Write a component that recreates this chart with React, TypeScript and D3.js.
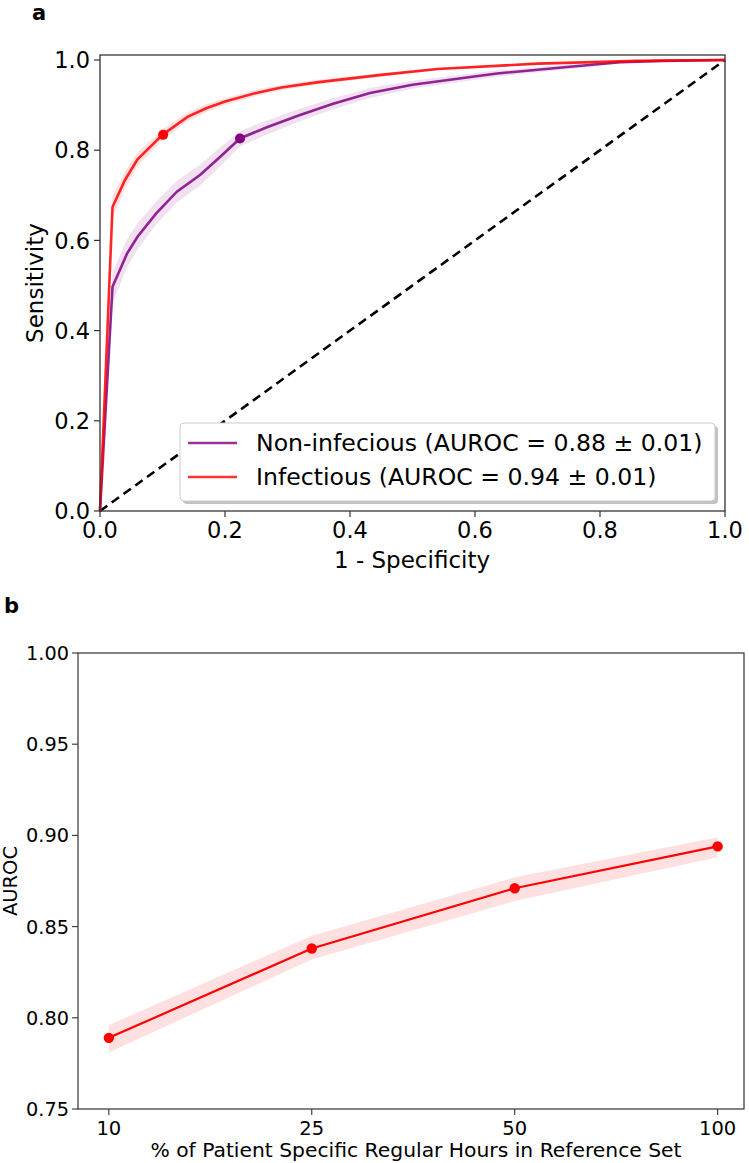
import React from "react";
import * as d3 from "d3";

// ---------- Panel a: ROC data ----------
const infFpr = [0, 0.02, 0.04, 0.06, 0.1, 0.14, 0.17, 0.2, 0.25, 0.29, 0.35, 0.45, 0.54, 0.7, 0.86, 1.0];
const infTpr = [0, 0.674, 0.734, 0.78, 0.834, 0.874, 0.893, 0.908, 0.927, 0.939, 0.951, 0.967, 0.98, 0.992, 0.998, 1.0];
const infLo = [0, 0.65, 0.715, 0.765, 0.822, 0.864, 0.884, 0.9, 0.92, 0.933, 0.946, 0.963, 0.977, 0.99, 0.997, 1.0];
const infHi = [0, 0.698, 0.753, 0.795, 0.846, 0.884, 0.902, 0.916, 0.934, 0.945, 0.956, 0.971, 0.983, 0.994, 0.999, 1.0];

const nonFpr = [0, 0.02, 0.043, 0.06, 0.09, 0.123, 0.16, 0.192, 0.224, 0.267, 0.32, 0.373, 0.432, 0.5, 0.635, 0.752, 0.832, 0.9, 1.0];
const nonTpr = [0, 0.497, 0.57, 0.608, 0.66, 0.708, 0.745, 0.785, 0.826, 0.851, 0.878, 0.903, 0.927, 0.945, 0.97, 0.985, 0.995, 0.998, 1.0];
const nonLo = [0, 0.46, 0.54, 0.58, 0.635, 0.684, 0.722, 0.764, 0.808, 0.835, 0.864, 0.891, 0.916, 0.936, 0.963, 0.98, 0.992, 0.996, 1.0];
const nonHi = [0, 0.53, 0.602, 0.638, 0.686, 0.732, 0.768, 0.806, 0.842, 0.866, 0.892, 0.915, 0.938, 0.954, 0.977, 0.99, 0.998, 1.0, 1.0];

const infPoint = [0.101, 0.834];
const nonPoint = [0.224, 0.826];

const rocTicks = [0, 0.2, 0.4, 0.6, 0.8, 1.0];
const legendLabels = ["Non-infecious (AUROC = 0.88 \u00b1 0.01)", "Infectious (AUROC = 0.94 \u00b1 0.01)"];

// ---------- Panel b: AUROC vs % data ----------
const pctCategories = ["10", "25", "50", "100"];
const aurocMean = [0.789, 0.838, 0.871, 0.894];
const aurocLo = [0.781, 0.832, 0.864, 0.888];
const aurocHi = [0.796, 0.845, 0.877, 0.899];
const aurocTicks = [0.75, 0.8, 0.85, 0.9, 0.95, 1.0];

const PURPLE = "#800080";
const RED = "#ff0000";
const FONT = "'DejaVu Sans', sans-serif";

export default function App() {
  // Panel a scales
  const xA = d3.scaleLinear().domain([0, 1]).range([100, 725]);
  const yA = d3.scaleLinear().domain([0, 1]).range([511, 60]);
  const topA = 55;

  const lineA = (fx: number[], fy: number[]) =>
    d3.line<number>().x((_, i) => xA(fx[i])).y((_, i) => yA(fy[i]))(fx) || "";
  const areaA = (fx: number[], lo: number[], hi: number[]) =>
    d3.area<number>().x((_, i) => xA(fx[i])).y0((_, i) => yA(lo[i])).y1((_, i) => yA(hi[i]))(fx) || "";

  // Panel b scales
  const xB = d3.scaleLinear().domain([-0.152, 3.13]).range([78, 744]);
  const yB = d3.scaleLinear().domain([0.75, 1.0]).range([1109, 653]);
  const idx = pctCategories.map((_, i) => i);
  const lineB = d3.line<number>().x((i) => xB(i)).y((i) => yB(aurocMean[i]))(idx) || "";
  const areaB = d3.area<number>().x((i) => xB(i)).y0((i) => yB(aurocLo[i])).y1((i) => yB(aurocHi[i]))(idx) || "";

  const legX = 180, legY = 423, legW = 535, legH = 78;
  const rowY = [443, 477];
  const legColors = [PURPLE, RED];

  return (
    <svg width={749} height={1163} style={{ position: "absolute", left: 0, top: 0, background: "#fff" }} fontFamily={FONT}>
      <rect x={0} y={0} width={749} height={1163} fill="#fff" />
      {/* Panel labels */}
      <text x={32} y={20} fontSize={21} fontWeight="bold">a</text>
      <text x={4} y={613} fontSize={21} fontWeight="bold">b</text>

      {/* ===== Panel a ===== */}
      <path d={areaA(nonFpr, nonLo, nonHi)} fill={PURPLE} fillOpacity={0.12} stroke="none" />
      <path d={areaA(infFpr, infLo, infHi)} fill={RED} fillOpacity={0.12} stroke="none" />
      <line x1={xA(0)} y1={yA(0)} x2={xA(1)} y2={yA(1)} stroke="#000" strokeWidth={2.6} strokeDasharray="9,5.5" />
      <path d={lineA(nonFpr, nonTpr)} fill="none" stroke={PURPLE} strokeOpacity={0.85} strokeWidth={2.6} />
      <path d={lineA(infFpr, infTpr)} fill="none" stroke={RED} strokeOpacity={0.85} strokeWidth={2.6} />
      <circle cx={xA(infPoint[0])} cy={yA(infPoint[1])} r={5} fill={RED} />
      <circle cx={xA(nonPoint[0])} cy={yA(nonPoint[1])} r={5} fill={PURPLE} />

      {/* frame */}
      <rect x={xA(0)} y={topA} width={xA(1) - xA(0)} height={yA(0) - topA} fill="none" stroke="#333" strokeWidth={1.3} />
      {rocTicks.map((t) => (
        <g key={"ya" + t}>
          <line x1={xA(0) - 6} x2={xA(0)} y1={yA(t)} y2={yA(t)} stroke="#333" strokeWidth={1.2} />
          <text x={xA(0) - 10} y={yA(t)} dy="0.36em" textAnchor="end" fontSize={22.5} fill="#000">{t.toFixed(1)}</text>
        </g>
      ))}
      {rocTicks.map((t) => (
        <g key={"xa" + t}>
          <line x1={xA(t)} x2={xA(t)} y1={yA(0)} y2={yA(0) + 6} stroke="#333" strokeWidth={1.2} />
          <text x={xA(t)} y={538} textAnchor="middle" fontSize={22.5} fill="#000">{t.toFixed(1)}</text>
        </g>
      ))}
      <text x={412} y={568} textAnchor="middle" fontSize={23} fill="#000">1 - Specificity</text>
      <text transform={`translate(43, ${(yA(0) + topA) / 2}) rotate(-90)`} textAnchor="middle" fontSize={23} fill="#000">Sensitivity</text>

      {/* legend */}
      <rect x={legX + 3} y={legY + 3} width={legW} height={legH} rx={4} fill="#999" fillOpacity={0.6} />
      <rect x={legX} y={legY} width={legW} height={legH} rx={4} fill="#fff" stroke="#ccc" strokeWidth={1} />
      {legendLabels.map((lab, i) => (
        <g key={lab}>
          <line x1={188} x2={237} y1={rowY[i]} y2={rowY[i]} stroke={legColors[i]} strokeOpacity={0.8} strokeWidth={2.6} />
          <text x={256} y={rowY[i]} dy="0.36em" fontSize={23.6} fill="#000">{lab}</text>
        </g>
      ))}

      {/* ===== Panel b ===== */}
      <path d={areaB} fill={RED} fillOpacity={0.12} stroke="none" />
      <path d={lineB} fill="none" stroke={RED} strokeWidth={2.2} />
      {idx.map((i) => (
        <circle key={"pb" + i} cx={xB(i)} cy={yB(aurocMean[i])} r={5.2} fill={RED} />
      ))}
      <rect x={xB.range()[0]} y={yB(1.0)} width={xB.range()[1] - xB.range()[0]} height={yB(0.75) - yB(1.0)} fill="none" stroke="#333" strokeWidth={1.2} />
      {aurocTicks.map((t) => (
        <g key={"yb" + t}>
          <line x1={xB.range()[0] - 6} x2={xB.range()[0]} y1={yB(t)} y2={yB(t)} stroke="#333" strokeWidth={1.1} />
          <text x={xB.range()[0] - 9} y={yB(t)} dy="0.36em" textAnchor="end" fontSize={19.3} fill="#000">{t.toFixed(2)}</text>
        </g>
      ))}
      {pctCategories.map((c, i) => (
        <g key={"xb" + c}>
          <line x1={xB(i)} x2={xB(i)} y1={yB(0.75)} y2={yB(0.75) + 6} stroke="#333" strokeWidth={1.1} />
          <text x={xB(i)} y={1135} textAnchor="middle" fontSize={19.5} fill="#000">{c}</text>
        </g>
      ))}
      <text x={416} y={1157} textAnchor="middle" fontSize={20.3} fill="#000">% of Patient Specific Regular Hours in Reference Set</text>
      <text transform={`translate(17, ${(yB(1.0) + yB(0.75)) / 2}) rotate(-90)`} textAnchor="middle" fontSize={19.5} fill="#000">AUROC</text>
    </svg>
  );
}
